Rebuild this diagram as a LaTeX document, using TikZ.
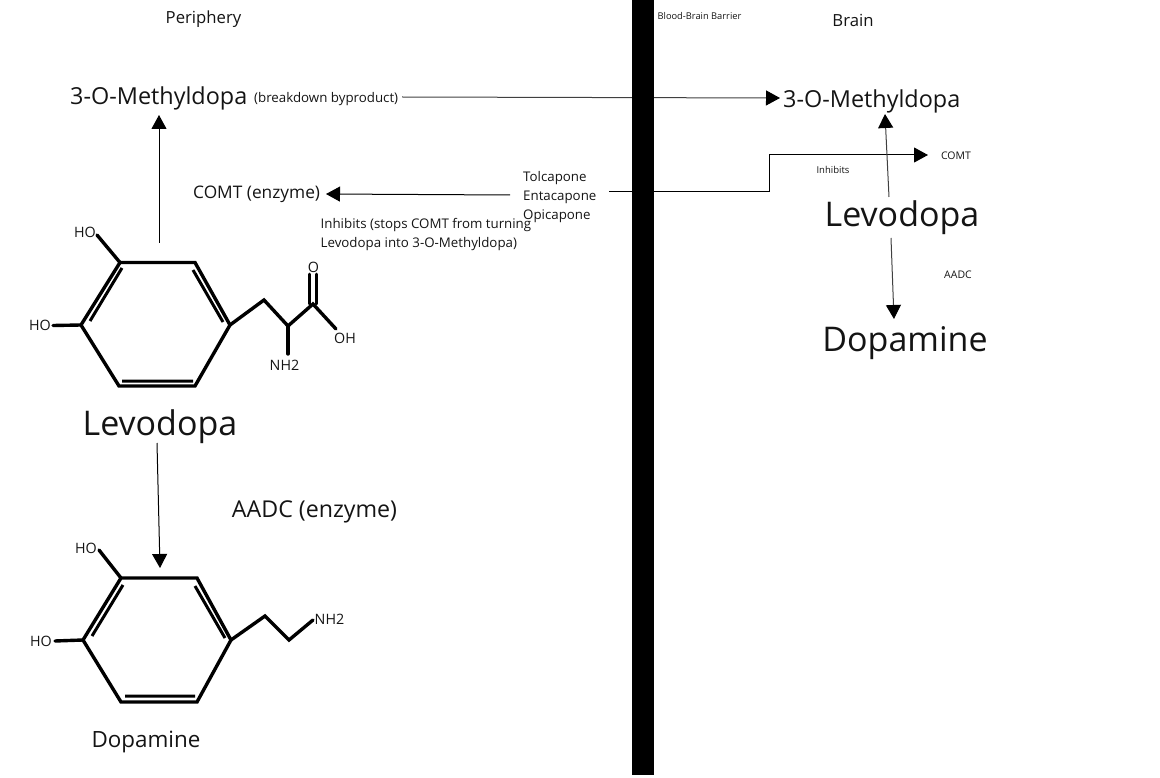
\documentclass[tikz,border=0pt]{standalone}
\usepackage{fontspec}
\setmainfont{Open Sans}
\usetikzlibrary{arrows.meta,positioning,calc}
\tikzset{
  txt/.style={inner sep=0pt,text=black!92},
  big/.style={txt,font=\fontsize{34}{40}\selectfont},
  mid/.style={txt,font=\fontsize{23.4}{28}\selectfont},
  head/.style={txt,font=\fontsize{16.7}{20}\selectfont},
  sub/.style={txt,font=\fontsize{13.3}{18.7}\selectfont},
  tiny/.style={txt,font=\fontsize{9.5}{12}\selectfont},
  atom/.style={txt,font=\fontsize{14.3}{16}\selectfont},
  bond/.style={line width=3.4pt,line cap=round,line join=miter},
  inbond/.style={line width=3pt},
  flow/.style={line width=1pt,-{Triangle[length=14pt,width=15pt,color=black]}},
}
\begin{document}
\begin{tikzpicture}[x=1pt,y=-1pt]
\useasboundingbox (0,0) rectangle (1160,778);
% headings
\node[head] (periphery) at (203.5,19.5) {Periphery};
\node[tiny,font=\fontsize{9.3}{12}\selectfont] (bbb) at (699.5,16) {Blood-Brain Barrier};
\node[head] (brain) at (853,20) {Brain};
% left column
\node[mid,anchor=west] (methylL) at (70,98) {3-O-Methyldopa};
\node[sub,anchor=west] (byproduct) at (254,99) {(breakdown byproduct)};
\node[head,anchor=west,font=\fontsize{17.3}{20}\selectfont] (comtL) at (193,194.5) {COMT (enzyme)};
\node[sub,anchor=north west,align=left] (inhibitsL) at (320.5,218) {Inhibits (stops COMT from turning\\Levodopa into 3-O-Methyldopa)};
\node[big] (levoL) at (160,426.5) {Levodopa};
\node[mid,font=\fontsize{23.2}{26}\selectfont] (aadcL) at (314.5,512) {AADC (enzyme)};
\node[mid,font=\fontsize{22.4}{26}\selectfont] (dopaL) at (146,741.5) {Dopamine};
% drugs
\node[sub,anchor=north west,align=left] (drugs) at (523,171.5) {Tolcapone\\Entacapone\\Opicapone};
% right column
\node[mid,anchor=west] (methylR) at (783,101) {3-O-Methyldopa};
\node[tiny,font=\fontsize{10.5}{12}\selectfont] (comtR) at (956,155.5) {COMT};
\node[tiny] (inhibitsR) at (833,169.5) {Inhibits};
\node[big] (levoR) at (902,218) {Levodopa};
\node[tiny,font=\fontsize{10.5}{12}\selectfont] (aadcR) at (958,275) {AADC};
\node[big] (dopaR) at (905,343.5) {Dopamine};
% levodopa molecule
\draw[bond] (120,262.5) -- (195,262.5) -- (230,325) -- (195,386) -- (119,386) -- (81,325) -- cycle;
\draw[bond] (120,262.5) -- (97,235);
\draw[bond] (81,325) -- (53,325.5);
\draw[bond] (230,325) -- (264,300) -- (288,326) -- (313,304) -- (336,329);
\draw[bond] (288,326) -- (288,354);
\draw[bond,line width=2.8pt] (309.5,304) -- (309.5,274) (316.5,304) -- (316.5,274);
\draw[inbond] (122,268) -- (90,321) (193,270) -- (223,322) (122,381) -- (193,381);
\node[atom] (hoA) at (85,232) {HO};
\node[atom] (hoB) at (40,325) {HO};
\node[atom] (oxy) at (313.5,267) {O};
\node[atom] (ohA) at (345,338) {OH};
\node[atom] (nhA) at (284.5,365) {NH2};
% dopamine molecule
\draw[bond] (121,578) -- (197,578) -- (231,640) -- (197,702) -- (121,702) -- (83,640) -- cycle;
\draw[bond] (121,578) -- (99,550);
\draw[bond] (83,640) -- (55,641);
\draw[bond] (231,640) -- (265,616) -- (289,640) -- (313,620);
\draw[inbond] (123,585) -- (92,636) (195,586) -- (225,638) (125,696) -- (195,696);
\node[atom] (hoC) at (86,548) {HO};
\node[atom] (hoD) at (41,641) {HO};
\node[atom] (nhB) at (329.5,619.5) {NH2};
% connectors
\coordinate (ringtopA) at (159,243);
\coordinate (ringtopB) at (160,568);
\coordinate (levofoot) at (157,443);
\coordinate (methylfoot) at (159,115);
\coordinate (nearstart) at (402,97);
\coordinate (nearend) at (780,98);
\coordinate (drugwest) at (510,195);
\coordinate (comttip) at (326,194);
\coordinate (drugeast) at (609,192);
\coordinate (elbowA) at (769,192);
\coordinate (elbowB) at (769,155);
\coordinate (comtend) at (928,155);
\coordinate (levotop) at (889,197);
\coordinate (methylunder) at (885,114);
\coordinate (levounder) at (891,238);
\coordinate (dopatop) at (894,319);
\draw[flow] (ringtopA) -- (methylfoot);
\draw[flow] (levofoot) -- (ringtopB);
\draw[flow,black!75] (nearstart) -- (nearend);
\draw[flow] (drugwest) -- (comttip);
\draw[flow] (drugeast) -- (elbowA) -- (elbowB) -- (comtend);
\draw[flow,black!75] (levotop) -- (methylunder);
\draw[flow,black!75] (levounder) -- (dopatop);
% barrier
\fill[black] (632,0) rectangle (654,775);
\end{tikzpicture}
\end{document}
